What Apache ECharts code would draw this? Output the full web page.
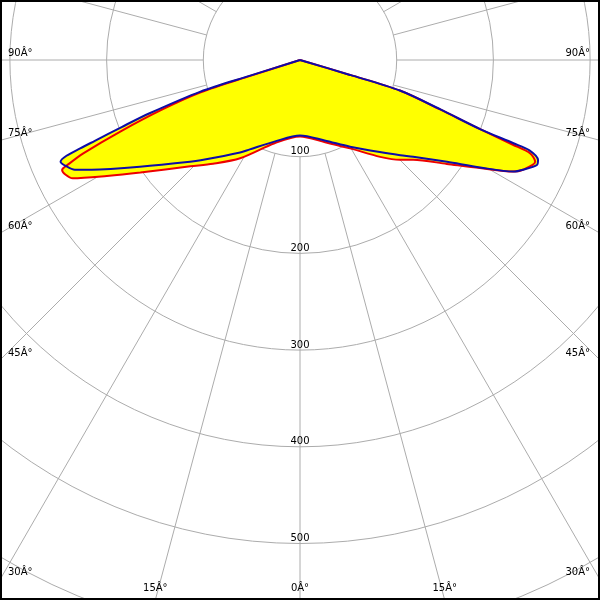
<!DOCTYPE html>
<html><head><meta charset="utf-8">
<script src="https://cdn.jsdelivr.net/npm/echarts@6/dist/echarts.min.js"></script>
<style>html,body{margin:0;padding:0;background:#fff}#c{width:600px;height:600px}</style>
</head><body><div id="c"></div>
<script>
// radius grid (cd) and angle ticks (deg)
const RADIUS_MIN = 100, RADIUS_MAX = 700, RADIUS_STEP = 100;
const ANGLE_TICKS = [0, 15, 30, 45, 60, 75, 90];
const ANGLE_SUFFIX = 'Â°';

// Blue curve: signed angle (negative = left half), intensity
const BLUE_ANGLES = [-75, -72.6, -72.4, -70.5, -69.4, -68.5, -68.1, -67.7, -67.0, -65.7, -64.0, -62.4, -61.3, -56.3, -47.2, -44.7, -32.9, -29.3, -17, 0,
  17, 30, 40.9, 46.5, 49.5, 55.3, 59.2, 62.4, 63.8, 66.1, 67.2, 68.5, 68.7, 69.0, 70.6, 73.0, 73.4, 75];
const BLUE_VALUES = [0, 54, 108, 165, 197, 228, 245, 261, 269, 266, 259, 245, 236, 199, 155, 146, 114, 106, 88, 78,
  87, 103.5, 126, 143, 154, 185, 217, 249, 257, 268, 267, 255, 237, 200, 154, 108, 54, 0];

// Red curve
const RED_ANGLES = [-75, -72.3, -72.0, -70.3, -68.3, -66.7, -65.8, -65.2, -64.0, -62.5, -59, -54.8, -45.9, -40, -31.4, -17, 0,
  17, 29.5, 39.6, 45, 48.6, 54.7, 59, 62.4, 63.8, 66.6, 67.9, 68.3, 69.0, 70.6, 73.0, 73.4, 75];
const RED_VALUES = [0, 54, 108, 150, 200, 244, 262, 271, 270, 265, 233, 202, 158, 140, 119, 90, 79,
  89, 105, 130, 146, 156, 186, 217, 249, 257, 265, 257, 237, 199, 153, 108, 54, 0];

const CX = 300, CY = 60, W = 600, H = 600;
const PX_PER_UNIT = 0.967;
const OUTER = RADIUS_MAX * PX_PER_UNIT;
const SMOOTH = 0.3;

function pairs(angles, values) { return angles.map((a, i) => [values[i], a]); }

const FONT = { fontFamily: 'DejaVu Sans', fontSize: 10, color: '#000' };

// angle labels placed where each radial line leaves the frame
const labels = [];
ANGLE_TICKS.forEach(a => {
  const sides = a === 0 ? [1] : [-1, 1];
  sides.forEach(side => {
    const rad = a * Math.PI / 180;
    const dx = Math.sin(rad) * side, dy = Math.cos(rad);
    const tx = Math.abs(dx) < 1e-9 ? Infinity : (side > 0 ? (W - CX) / dx : -CX / dx);
    const ty = dy <= 1e-9 ? Infinity : (H - CY) / dy;
    let x, y, align;
    if (tx < ty) {
      y = CY + dy * tx - 7;
      x = side < 0 ? 8 : 590;
      align = side < 0 ? 'left' : 'right';
    } else {
      x = CX + dx * ty;
      y = 588;
      align = 'center';
    }
    labels.push({
      type: 'text', x: x, y: y, z: 50,
      style: { text: a + ANGLE_SUFFIX, fill: '#000', font: '10px "DejaVu Sans"', align: align, verticalAlign: 'middle' }
    });
  });
});

const chart = echarts.init(document.getElementById('c'), null, { renderer: 'canvas' });
chart.setOption({
  animation: false,
  backgroundColor: '#fff',
  polar: [
    { center: [CX, CY], radius: [RADIUS_MIN * PX_PER_UNIT, OUTER] },
    { center: [CX, CY], radius: [0, OUTER] }
  ],
  angleAxis: [
    { polarIndex: 0, type: 'value', min: 0, max: 360, interval: 15, startAngle: 270,
      axisLine: { show: false }, axisTick: { show: false }, axisLabel: { show: false },
      splitLine: { show: true, lineStyle: { color: '#acacac', width: 1 } } },
    { polarIndex: 1, type: 'value', min: -180, max: 180, startAngle: 90, clockwise: false,
      axisLine: { show: false }, axisTick: { show: false }, axisLabel: { show: false }, splitLine: { show: false } }
  ],
  radiusAxis: [
    { polarIndex: 0, type: 'value', min: RADIUS_MIN, max: RADIUS_MAX, interval: RADIUS_STEP,
      axisLine: { show: false }, axisTick: { show: false },
      axisLabel: Object.assign({ show: true, margin: 0, align: 'center', verticalAlign: 'bottom',
        formatter: v => (v > 500 ? '' : String(v)) }, FONT),
      splitLine: { show: true, lineStyle: { color: '#acacac', width: 1 } } },
    { polarIndex: 1, type: 'value', min: 0, max: RADIUS_MAX,
      axisLine: { show: false }, axisTick: { show: false }, axisLabel: { show: false }, splitLine: { show: false } }
  ],
  series: [
    { type: 'line', coordinateSystem: 'polar', polarIndex: 1, data: pairs(RED_ANGLES, RED_VALUES), smooth: SMOOTH,
      showSymbol: false, lineStyle: { width: 0 }, areaStyle: { color: '#ffff00', opacity: 1 }, z: 3 },
    { type: 'line', coordinateSystem: 'polar', polarIndex: 1, data: pairs(BLUE_ANGLES, BLUE_VALUES), smooth: SMOOTH,
      showSymbol: false, lineStyle: { width: 0 }, areaStyle: { color: '#ffff00', opacity: 1 }, z: 3 },
    { type: 'line', coordinateSystem: 'polar', polarIndex: 1, data: pairs(RED_ANGLES, RED_VALUES), smooth: SMOOTH,
      showSymbol: false, lineStyle: { color: '#ee0000', width: 2 }, z: 4 },
    { type: 'line', coordinateSystem: 'polar', polarIndex: 1, data: pairs(BLUE_ANGLES, BLUE_VALUES), smooth: SMOOTH,
      showSymbol: false, lineStyle: { color: '#0c0ca8', width: 2 }, z: 5 }
  ],
  graphic: labels.concat([
    { type: 'rect', z: 100, shape: { x: 0, y: 0, width: W, height: H },
      style: { fill: null, stroke: '#000', lineWidth: 4 } }
  ])
});
</script>
</body></html>
